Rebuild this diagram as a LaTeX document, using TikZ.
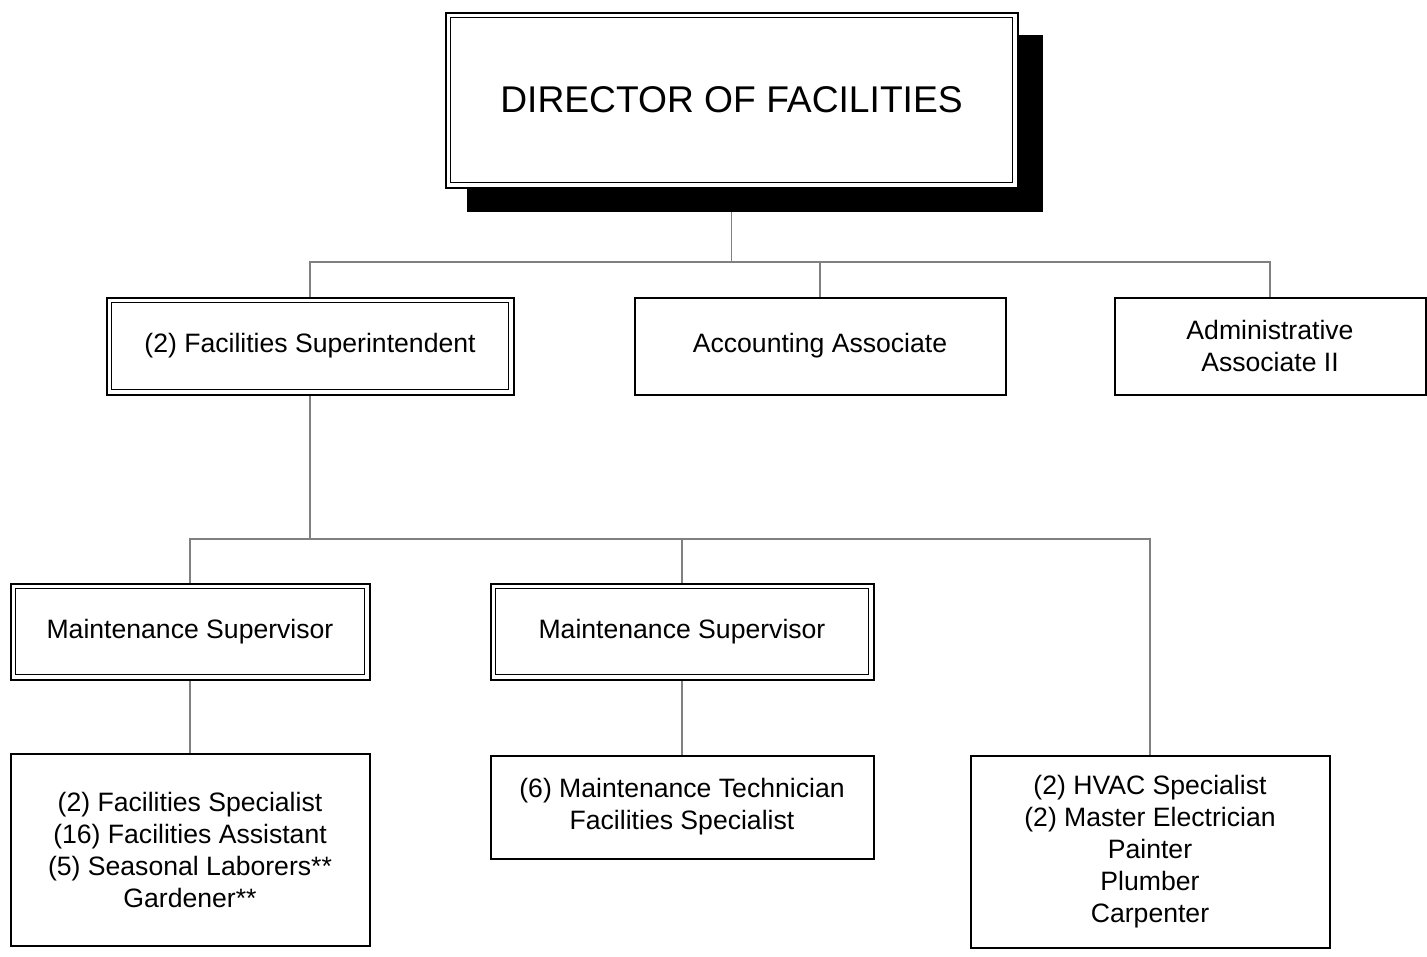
\documentclass[tikz,border=0pt]{standalone}
\usepackage{fontspec}
\setmainfont{Liberation Sans}
\usetikzlibrary{backgrounds}
\tikzset{
  box/.style={draw=black, line width=2pt, fill=white, inner sep=0pt, outer sep=0pt, align=center,
    font=\fontsize{26.6}{32}\selectfont},
  conn/.style={draw=black!50, line width=1.3pt},
  innerline/.style={draw=black, line width=1.5pt}
}
\begin{document}
\begin{tikzpicture}[x=1pt,y=-1pt]
\useasboundingbox (0,0) rectangle (1427,956);
% shadow and director
\node[fill=black, inner sep=0pt, minimum width=576pt, minimum height=177pt] (shadow) at (755,123.5) {};
\node[box, minimum width=572pt, minimum height=175pt, font=\fontsize{37.2}{44}\selectfont] (dir) at (731.5,100) {DIRECTOR OF FACILITIES};
\draw[innerline] ([shift={(5,5)}]dir.north west) rectangle ([shift={(-5,-5)}]dir.south east);
% level 2
\node[box, minimum width=407pt, minimum height=97pt] (sup) at (310,346) {(2) Facilities Superintendent};
\draw[innerline] ([shift={(5,5)}]sup.north west) rectangle ([shift={(-5,-5)}]sup.south east);
\node[box, minimum width=371pt, minimum height=97pt] (acc) at (820,346) {Accounting Associate};
\node[box, minimum width=311pt, minimum height=97pt] (adm) at (1270,346) {Administrative\\Associate II};
% level 3
\node[box, minimum width=359pt, minimum height=96pt] (ms1) at (190,631.5) {Maintenance Supervisor};
\draw[innerline] ([shift={(5,5)}]ms1.north west) rectangle ([shift={(-5,-5)}]ms1.south east);
\node[box, minimum width=383pt, minimum height=96pt] (ms2) at (682,631.5) {Maintenance Supervisor};
\draw[innerline] ([shift={(5,5)}]ms2.north west) rectangle ([shift={(-5,-5)}]ms2.south east);
% level 4
\node[box, minimum width=359pt, minimum height=192pt] (boxa) at (190,849.5) {(2) Facilities Specialist\\(16) Facilities Assistant\\(5) Seasonal Laborers**\\Gardener**};
\node[box, minimum width=383pt, minimum height=103pt] (boxb) at (682,807) {(6) Maintenance Technician\\Facilities Specialist};
\node[box, minimum width=359pt, minimum height=192pt] (boxc) at (1150,851.5) {(2) HVAC Specialist\\(2) Master Electrician\\Painter\\Plumber\\Carpenter};
% connectors
\coordinate (busa) at (0,262);
\coordinate (busb) at (0,539);
\begin{scope}[on background layer]
\draw[conn] (dir.south) -- (dir.south |- busa);
\draw[conn] (sup.north) -- (sup.north |- busa) -- (adm.north |- busa) -- (adm.north);
\draw[conn] (acc.north |- busa) -- (acc.north);
\draw[conn] (sup.south) -- (sup.south |- busb);
\draw[conn] (ms1.north) -- (ms1.north |- busb) -- (boxc.north |- busb) -- (boxc.north);
\draw[conn] (ms2.north |- busb) -- (ms2.north);
\draw[conn] (ms1.south) -- (boxa.north);
\draw[conn] (ms2.south) -- (boxb.north);
\end{scope}
\end{tikzpicture}
\end{document}
